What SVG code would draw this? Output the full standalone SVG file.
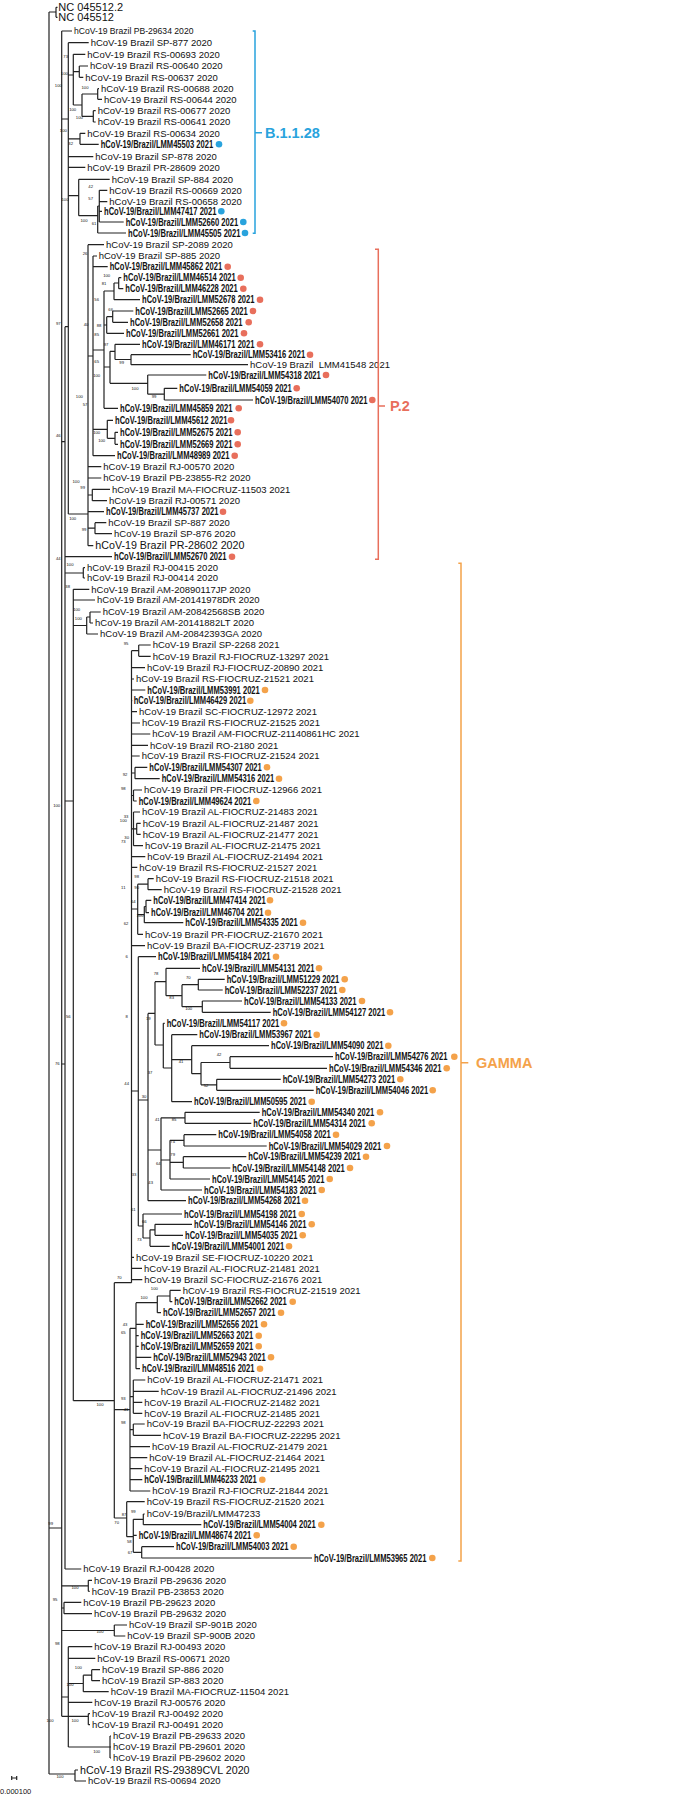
<svg xmlns="http://www.w3.org/2000/svg" width="686" height="1797" viewBox="0 0 686 1797">
<style>
text{font-family:"Liberation Sans Narrow","Liberation Sans",Arial,sans-serif;fill:#111}
.l{font-size:9.5px}
.b{font-size:10px;font-weight:bold;font-family:"Liberation Sans",Arial,sans-serif}
.sm{font-size:8.6px}
.lg{font-size:10.7px}
.nc{font-size:11px}
.bs{font-size:4.2px;text-anchor:middle;font-family:"Liberation Sans",Arial,sans-serif}
.e{fill:none;stroke:#222;stroke-width:1.2}
.cb{fill:#29a3dd}.cr{fill:#e86f5c}.co{fill:#f4a24a}
.kb{fill:none;stroke:#29a3dd;stroke-width:1.5}.kr{fill:none;stroke:#e86f5c;stroke-width:1.5}.ko{fill:none;stroke:#f4a24a;stroke-width:1.5}
.tb{font-size:14.5px;font-weight:bold;fill:#29a3dd}.tr{font-size:14.5px;font-weight:bold;fill:#e86f5c}.to{font-size:14.5px;font-weight:bold;fill:#f4a24a}
</style>
<g id="connectors">
<path class="e" d="M49,12V1774 M49,12H56 M56,7.3V17.3 M56,7.3H57.5 M56,17.3H57.5
M61.7,31V1716.3 M49,1528H61.7 M61.7,31H72
M68.3,42.7V514 M61.7,119H68.3 M68.3,42.7H88.7 M68.3,156.7H93.3 M68.3,167.3H85.3
M73.3,54.3V105 M68.3,75H73.3 M73.3,54.3H85.3 M79.3,66V77.3 M73.3,71.7H79.3 M79.3,66H88 M79.3,77.3H83.3 M82,94V116.3 M73.3,105H82 M97.7,88.7V99.3 M82,94H97.7 M97.7,88.7H99 M97.7,99.3H102 M93.3,110.7V122 M82,116.3H93.3 M93.3,110.7H95.7 M93.3,122H95.7
M80,133.3V144.3 M68.3,138.8H80 M80,133.3H85.3 M80,144.3H98.7
M78.7,179.3V215.7 M68.3,195.7H78.7 M78.7,179.3H109.7 M97.7,206V233 M78.7,215.7H97.7 M97.7,233H126 M99.3,190.3V222 M97.7,206H99.3 M99.3,190.3H107.3 M99.3,201.7H107.3 M99.3,211.3H102 M99.3,222H123.7"/>
<path class="e" d="M88,244.7V545.7 M68.3,514H88 M88,244.7H104
M93,256V455.7 M88,356H93 M93,256H97 M93,266.7H107.7
M104,291V408.3 M93,350H104
M114,283V299.7 M104,291H114 M118.7,277.7V288.7 M114,283H118.7 M118.7,277.7H121.3 M118.7,288.7H123.3 M114,299.7H140
M106.7,316.7V333.3 M104,325H106.7 M112.7,311V322.3 M106.7,316.7H112.7 M112.7,311H133.3 M112.7,322.3H128 M106.7,333.3H124
M110,351.3V383.3 M104,367H110 M115,344.3V359.5 M110,351.3H115 M115,344.3H140 M131,354.7V364.7 M115,359.5H131 M131,354.7H190.7 M131,364.7H248 M147.7,375V394.2 M110,383.3H147.7 M147.7,375H206.3 M164.3,388.3V400 M147.7,394.2H164.3 M164.3,388.3H177.3 M164.3,400H253
M104,408.3H118
M107.3,420.3V438.3 M93,429.3H107.3 M107.3,420.3H113 M115,432.3V444.3 M107.3,438.3H115 M115,432.3H118 M115,444.3H118
M93,455.7H115
M88,466.7H101.3 M88,478H101.3 M92.3,489.3V500.7 M88,495H92.3 M92.3,489.3H110 M92.3,500.7H107 M88,511.7H104 M95,522.7V533.7 M88,528.2H95 M95,522.7H106.3 M95,533.7H112 M88,545.7H93.3"/>
<path class="e" d="M65,326.7V1569 M61.7,441.7H65 M61.7,1064H65 M65,326.7H68.3 M65,556.7H112 M83.3,567.7V578 M65,573H83.3 M83.3,567.7H85 M83.3,578H85
M73.3,589.3V1400.7 M65,801H73.3 M73.3,589.3H89.3 M73.3,600H95 M86.7,617V634 M73.3,625.5H86.7 M90,612V623 M86.7,617H90 M90,612H100.7 M90,623H93 M86.7,634H98
M65,1569H81.3"/>
<path class="e" d="M114.3,1282.7V1518 M73.3,1400.7H114.3
M131.5,650.7V1282.7 M114.3,1282.7H131.5
M138.7,645V656.3 M131.5,650.7H138.7 M138.7,645H150.7 M138.7,656.3H150.7 M131.5,667.7H145 M131.5,679H134 M131.5,690H145.3 M131.5,700.7H132.3 M131.5,711.7H137 M131.5,723H140 M131.5,734H150.3 M131.5,745.3H148 M131.5,756H139.7
M135,767.3V778.7 M131.5,773H135 M135,767.3H147.3 M135,778.7H159.7
M133.5,790V801 M131.5,795.5H133.5 M133.5,790H142 M133.5,801H136.7
M133.5,812V845.7 M131.5,828.8H133.5 M133.5,812H140 M136.7,823.3V834.3 M133.5,828.8H136.7 M136.7,823.3H140.7 M136.7,834.3H140.7 M133.5,845.7H143
M131.5,856.7H145.3 M131.5,867.3H137.3
M137.7,884.2V934.3 M131.5,909H137.7 M148,878.7V889.7 M137.7,884.2H148 M148,878.7H153.7 M148,889.7H161.7 M144.3,906.5V922.7 M137.7,914.6H144.3 M146,900.3V912.7 M144.3,906.5H146 M146,900.3H151.3 M146,912.7H149 M144.3,922.7H183.3 M137.7,934.3H143
M131.5,945.7H145"/>
<path class="e" d="M138.3,956.7V1226 M131.5,1091H138.3 M138.3,956.7H156
M148,1013.4V1200.7 M138.3,1100H148
M155,981.7V1045 M148,1013.4H155
M166,968.3V995.7 M155,981.7H166 M166,968.3H200 M182,984.7V1006.7 M166,995.7H182 M198.3,979.3V990 M182,984.7H198.3 M198.3,979.3H224.7 M198.3,990H222.7 M202.3,1001V1012.3 M182,1006.7H202.3 M202.3,1001H242 M202.3,1012.3H270.7
M163.3,1023.3V1068 M155,1045H163.3 M163.3,1023.3H164.7 M171.7,1034.7V1101.7 M163.3,1068H171.7 M171.7,1034.7H197.3 M171.7,1101.7H192 M191.7,1045.7V1073.7 M171.7,1059.7H191.7 M191.7,1045.7H269 M201,1062.5V1084.8 M191.7,1073.7H201 M230,1056.7V1068.3 M201,1062.5H230 M230,1056.7H333 M230,1068.3H327 M216.7,1079.3V1090.3 M201,1084.8H216.7 M216.7,1079.3H280.7 M216.7,1090.3H313.7
M161,1117.8V1190 M148,1150H161 M185,1112.3V1123.3 M161,1117.8H185 M185,1112.3H259.7 M185,1123.3H251.3 M170,1140.3V1179 M161,1160H170 M184,1134.7V1146 M170,1140.3H184 M184,1134.7H216.3 M184,1146H266.7 M183.3,1156.7V1168 M170,1162.3H183.3 M183.3,1156.7H246.3 M183.3,1168H230.3 M170,1179H210 M161,1190H202 M148,1200.7H186
M143,1214V1238 M138.3,1226H143 M143,1214H182 M150,1229.8V1246.3 M143,1238H150 M155,1224.3V1235.3 M150,1229.8H155 M155,1224.3H192 M155,1235.3H183 M150,1246.3H169.7
M131.5,1257.3H134 M131.5,1268.3H142 M131.5,1279.7H142.3"/>
<path class="e" d="M130,1328.3V1491 M114.3,1409.7H130 M136,1302.7V1368.7 M130,1328.3H136 M157.3,1296V1312.7 M136,1302.7H157.3 M170,1290.3V1301.7 M157.3,1296H170 M170,1290.3H180.7 M170,1301.7H172.3 M157.3,1312.7H161 M136,1324.3H143.7 M136,1335.7H138.7 M136,1346.3H138.7 M136,1357.3H151.3 M136,1368.7H140
M133.3,1380V1413.3 M130,1396.7H133.3 M133.3,1380H145.3 M133.3,1391.3H158.7 M133.3,1402.3H142.3 M133.3,1413.3H142.3 M133.3,1424V1435.3 M130,1429.7H133.3 M133.3,1424H144.7 M133.3,1435.3H161 M130,1446.7H150 M130,1457.7H147.3 M130,1468.7H142.3 M130,1479.7H142.3 M130,1491H150.3
M126.7,1501.7V1536.7 M114.3,1518H126.7 M126.7,1501.7H144.7 M133.3,1519.3V1552.3 M126.7,1536.7H133.3 M143.3,1514V1524.7 M133.3,1519.3H143.3 M143.3,1514H144.7 M143.3,1524.7H201.3 M133.3,1535.3H136.7 M141.7,1546.7V1558 M133.3,1552.3H141.7 M141.7,1546.7H174 M141.7,1558H312"/>
<path class="e" d="M88.3,1580.3V1591.3 M61.7,1585.8H88.3 M88.3,1580.3H92 M88.3,1591.3H89.7 M64,1602.3V1613.7 M61.7,1608H64 M64,1602.3H81.3 M64,1613.7H92 M114.3,1625V1636 M61.7,1630.5H114.3 M114.3,1625H127 M114.3,1636H125.3
M68.3,1646.7V1747 M61.7,1697H68.3 M68.3,1646.7H92.3 M68.3,1658.3H95.3 M83.3,1675.2V1691.7 M68.3,1683.5H83.3 M91.7,1669.7V1680.7 M83.3,1675.2H91.7 M91.7,1669.7H100 M91.7,1680.7H100 M83.3,1691.7H108.7 M68.3,1702.3H92.3 M110,1736V1758 M68.3,1747H110 M110,1736H111 M110,1747H111 M110,1758H111
M88.3,1713.7V1724.7 M61.7,1716.3H88.3 M88.3,1713.7H90 M88.3,1724.7H90
M75,1770V1781 M49,1774H75 M75,1770H78 M75,1781H86"/>
</g>
<g id="bootstrap">
<text class="bs" x="65.7" y="58">73</text><text class="bs" x="64.3" y="74.6">100</text><text class="bs" x="58.3" y="87.3">100</text><text class="bs" x="85" y="88.6">100</text><text class="bs" x="72.7" y="111.3">100</text><text class="bs" x="79.3" y="118.6">100</text><text class="bs" x="63.3" y="132.3">100</text><text class="bs" x="70.7" y="145.3">32</text>
<text class="bs" x="90.7" y="188">42</text><text class="bs" x="90.7" y="199.6">57</text><text class="bs" x="65" y="201.3">100</text><text class="bs" x="84" y="222">100</text><text class="bs" x="94" y="225.3">61</text><text class="bs" x="85" y="254.6">26</text><text class="bs" x="106.7" y="277.3">100</text><text class="bs" x="104" y="285.3">81</text><text class="bs" x="96.7" y="301.3">56</text>
<text class="bs" x="110.7" y="310.6">66</text><text class="bs" x="58.3" y="324.6">97</text><text class="bs" x="86" y="325.6">40</text><text class="bs" x="99" y="327.3">88</text><text class="bs" x="96.7" y="335.6">85</text><text class="bs" x="106" y="346.3">97</text><text class="bs" x="121.7" y="364">99</text><text class="bs" x="96.7" y="363">65</text><text class="bs" x="96.7" y="377.3">100</text><text class="bs" x="135" y="389.6">100</text><text class="bs" x="154" y="398">99</text><text class="bs" x="79.3" y="398">100</text><text class="bs" x="85" y="406.3">57</text><text class="bs" x="58.3" y="437.3">46</text><text class="bs" x="96.7" y="433.6">100</text><text class="bs" x="101.7" y="442">100</text>
<text class="bs" x="76" y="483">100</text><text class="bs" x="82.7" y="489">99</text><text class="bs" x="72.7" y="520.3">100</text><text class="bs" x="84" y="530.6">99</text><text class="bs" x="58.3" y="559.6">44</text><text class="bs" x="70" y="566.3">100</text><text class="bs" x="67.7" y="588">38</text>
<text class="bs" x="76.7" y="611.3">100</text><text class="bs" x="78.3" y="619.6">100</text><text class="bs" x="126" y="644.6">95</text>
<text class="bs" x="125" y="776.3">92</text><text class="bs" x="123.3" y="789.6">98</text><text class="bs" x="56.7" y="807.3">100</text><text class="bs" x="126" y="818">33</text><text class="bs" x="123.3" y="822">100</text><text class="bs" x="126.7" y="839">30</text><text class="bs" x="123.3" y="843">73</text><text class="bs" x="136.7" y="878">98</text><text class="bs" x="136.7" y="889">90</text><text class="bs" x="123.3" y="888.6">11</text>
<text class="bs" x="133.3" y="903">64</text><text class="bs" x="140" y="917.3">100</text><text class="bs" x="126" y="925.3">62</text><text class="bs" x="126.7" y="958">6</text><text class="bs" x="156" y="975.3">78</text><text class="bs" x="188.3" y="978.6">70</text><text class="bs" x="171.7" y="999">83</text><text class="bs" x="188.7" y="1009.6">100</text><text class="bs" x="68.3" y="1018">56</text><text class="bs" x="126.7" y="1018">8</text><text class="bs" x="148.3" y="1019.6">19</text>
<text class="bs" x="219" y="1056.3">42</text><text class="bs" x="181" y="1063">41</text><text class="bs" x="57.3" y="1065.3">76</text><text class="bs" x="150" y="1074">37</text><text class="bs" x="126.7" y="1084.6">44</text><text class="bs" x="206" y="1087.3">52</text><text class="bs" x="144" y="1098">30</text><text class="bs" x="174" y="1121.3">85</text><text class="bs" x="157.3" y="1121.3">41</text><text class="bs" x="172.7" y="1143">74</text><text class="bs" x="172.7" y="1156.3">79</text><text class="bs" x="158.3" y="1164.6">64</text><text class="bs" x="134" y="1176.3">33</text><text class="bs" x="150.7" y="1184">43</text>
<text class="bs" x="133.3" y="1211.3">61</text><text class="bs" x="144.3" y="1223">66</text><text class="bs" x="139.3" y="1240.6">73</text><text class="bs" x="119.3" y="1279">70</text><text class="bs" x="154.3" y="1289.6">100</text><text class="bs" x="144" y="1298.6">100</text><text class="bs" x="125" y="1326.3">43</text><text class="bs" x="123.3" y="1334">65</text>
<text class="bs" x="123.3" y="1399.6">93</text><text class="bs" x="100" y="1406.3">100</text><text class="bs" x="126" y="1410.6">41</text><text class="bs" x="123.3" y="1424">98</text>
<text class="bs" x="133.3" y="1513">99</text><text class="bs" x="124" y="1516.3">87</text><text class="bs" x="116.7" y="1524">70</text><text class="bs" x="50.7" y="1525.3">99</text><text class="bs" x="129.3" y="1543">58</text><text class="bs" x="130" y="1554">67</text><text class="bs" x="75" y="1588.6">100</text><text class="bs" x="55" y="1601.3">95</text><text class="bs" x="100" y="1633">100</text><text class="bs" x="57.3" y="1645.3">98</text>
<text class="bs" x="78.3" y="1668.6">100</text><text class="bs" x="70" y="1686">100</text><text class="bs" x="50" y="1722">100</text><text class="bs" x="75" y="1722">100</text><text class="bs" x="96.7" y="1753.3">100</text><text class="bs" x="60" y="1777.6">100</text>
</g>
<g id="n1"><text class="nc" x="58.3" y="11.3">NC 045512.2</text></g>
<g id="n2"><text class="nc" x="58.3" y="21.3">NC 045512</text></g>
<g id="n3"><text class="sm" x="74" y="34.3">hCoV-19 Brazil PB-29634 2020</text></g>
<g id="n4"><text class="l" x="90.7" y="46">hCoV-19 Brazil SP-877 2020</text></g>
<g id="n5"><text class="l" x="87.3" y="57.6">hCoV-19 Brazil RS-00693 2020</text></g>
<g id="n6"><text class="l" x="90" y="69.3">hCoV-19 Brazil RS-00640 2020</text></g>
<g id="n7"><text class="l" x="85.3" y="80.6">hCoV-19 Brazil RS-00637 2020</text></g>
<g id="n8"><text class="l" x="101" y="92">hCoV-19 Brazil RS-00688 2020</text></g>
<g id="n9"><text class="l" x="104" y="102.6">hCoV-19 Brazil RS-00644 2020</text></g>
<g id="n10"><text class="l" x="97.7" y="114">hCoV-19 Brazil RS-00677 2020</text></g>
<g id="n11"><text class="l" x="97.7" y="125.3">hCoV-19 Brazil RS-00641 2020</text></g>
<g id="n12"><text class="l" x="87.3" y="136.6">hCoV-19 Brazil RS-00634 2020</text></g>
<g id="n13"><text class="b" x="100.7" y="147.8" textLength="112.5" lengthAdjust="spacingAndGlyphs">hCoV-19/Brazil/LMM45503 2021</text><circle class="cb" cx="219" cy="144.3" r="3.3"/></g>
<g id="n14"><text class="l" x="95.3" y="160">hCoV-19 Brazil SP-878 2020</text></g>
<g id="n15"><text class="l" x="87.3" y="170.6">hCoV-19 Brazil PR-28609 2020</text></g>
<g id="n16"><text class="l" x="111.7" y="182.6">hCoV-19 Brazil SP-884 2020</text></g>
<g id="n17"><text class="l" x="109.3" y="193.6">hCoV-19 Brazil RS-00669 2020</text></g>
<g id="n18"><text class="l" x="109.3" y="205">hCoV-19 Brazil RS-00658 2020</text></g>
<g id="n19"><text class="b" x="104" y="214.8" textLength="112.5" lengthAdjust="spacingAndGlyphs">hCoV-19/Brazil/LMM47417 2021</text><circle class="cb" cx="221.3" cy="211.3" r="3.3"/></g>
<g id="n20"><text class="b" x="125.7" y="225.5" textLength="112.5" lengthAdjust="spacingAndGlyphs">hCoV-19/Brazil/LMM52660 2021</text><circle class="cb" cx="243.3" cy="222" r="3.3"/></g>
<g id="n21"><text class="b" x="128" y="236.5" textLength="112.5" lengthAdjust="spacingAndGlyphs">hCoV-19/Brazil/LMM45505 2021</text><circle class="cb" cx="245" cy="233" r="3.3"/></g>
<g id="n22"><text class="l" x="106" y="248">hCoV-19 Brazil SP-2089 2020</text></g>
<g id="n23"><text class="l" x="98.7" y="259.3">hCoV-19 Brazil SP-885 2020</text></g>
<g id="n24"><text class="b" x="109.7" y="270.2" textLength="112.5" lengthAdjust="spacingAndGlyphs">hCoV-19/Brazil/LMM45862 2021</text><circle class="cr" cx="227.7" cy="266.7" r="3.3"/></g>
<g id="n25"><text class="b" x="123.3" y="281.2" textLength="112.5" lengthAdjust="spacingAndGlyphs">hCoV-19/Brazil/LMM46514 2021</text><circle class="cr" cx="240.7" cy="277.7" r="3.3"/></g>
<g id="n26"><text class="b" x="125.3" y="292.2" textLength="112.5" lengthAdjust="spacingAndGlyphs">hCoV-19/Brazil/LMM46228 2021</text><circle class="cr" cx="243.3" cy="288.7" r="3.3"/></g>
<g id="n27"><text class="b" x="142" y="303.2" textLength="112.5" lengthAdjust="spacingAndGlyphs">hCoV-19/Brazil/LMM52678 2021</text><circle class="cr" cx="260" cy="299.7" r="3.3"/></g>
<g id="n28"><text class="b" x="135.3" y="314.5" textLength="112.5" lengthAdjust="spacingAndGlyphs">hCoV-19/Brazil/LMM52665 2021</text><circle class="cr" cx="253" cy="311" r="3.3"/></g>
<g id="n29"><text class="b" x="130" y="325.8" textLength="112.5" lengthAdjust="spacingAndGlyphs">hCoV-19/Brazil/LMM52658 2021</text><circle class="cr" cx="248.7" cy="322.3" r="3.3"/></g>
<g id="n30"><text class="b" x="126" y="336.8" textLength="112.5" lengthAdjust="spacingAndGlyphs">hCoV-19/Brazil/LMM52661 2021</text><circle class="cr" cx="244" cy="333.3" r="3.3"/></g>
<g id="n31"><text class="b" x="142" y="347.8" textLength="112.5" lengthAdjust="spacingAndGlyphs">hCoV-19/Brazil/LMM46171 2021</text><circle class="cr" cx="260" cy="344.3" r="3.3"/></g>
<g id="n32"><text class="b" x="192.7" y="358.2" textLength="112.5" lengthAdjust="spacingAndGlyphs">hCoV-19/Brazil/LMM53416 2021</text><circle class="cr" cx="310" cy="354.7" r="3.3"/></g>
<g id="n33"><text class="l" x="250" y="368">hCoV-19 Brazil&#160; LMM41548 2021</text></g>
<g id="n34"><text class="b" x="208.3" y="378.5" textLength="112.5" lengthAdjust="spacingAndGlyphs">hCoV-19/Brazil/LMM54318 2021</text><circle class="cr" cx="326" cy="375" r="3.3"/></g>
<g id="n35"><text class="b" x="179.3" y="391.8" textLength="112.5" lengthAdjust="spacingAndGlyphs">hCoV-19/Brazil/LMM54059 2021</text><circle class="cr" cx="296.7" cy="388.3" r="3.3"/></g>
<g id="n36"><text class="b" x="255" y="403.5" textLength="112.5" lengthAdjust="spacingAndGlyphs">hCoV-19/Brazil/LMM54070 2021</text><circle class="cr" cx="372.3" cy="400" r="3.3"/></g>
<g id="n37"><text class="b" x="120" y="411.8" textLength="112.5" lengthAdjust="spacingAndGlyphs">hCoV-19/Brazil/LMM45859 2021</text><circle class="cr" cx="238.7" cy="408.3" r="3.3"/></g>
<g id="n38"><text class="b" x="115" y="423.8" textLength="112.5" lengthAdjust="spacingAndGlyphs">hCoV-19/Brazil/LMM45612 2021</text><circle class="cr" cx="231" cy="420.3" r="3.3"/></g>
<g id="n39"><text class="b" x="120" y="435.8" textLength="112.5" lengthAdjust="spacingAndGlyphs">hCoV-19/Brazil/LMM52675 2021</text><circle class="cr" cx="237.7" cy="432.3" r="3.3"/></g>
<g id="n40"><text class="b" x="120" y="447.8" textLength="112.5" lengthAdjust="spacingAndGlyphs">hCoV-19/Brazil/LMM52669 2021</text><circle class="cr" cx="237.7" cy="444.3" r="3.3"/></g>
<g id="n41"><text class="b" x="117" y="459.2" textLength="112.5" lengthAdjust="spacingAndGlyphs">hCoV-19/Brazil/LMM48989 2021</text><circle class="cr" cx="234.7" cy="455.7" r="3.3"/></g>
<g id="n42"><text class="l" x="103.3" y="470">hCoV-19 Brazil RJ-00570 2020</text></g>
<g id="n43"><text class="l" x="103.3" y="481.3">hCoV-19 Brazil PB-23855-R2 2020</text></g>
<g id="n44"><text class="l" x="112" y="492.6">hCoV-19 Brazil MA-FIOCRUZ-11503 2021</text></g>
<g id="n45"><text class="l" x="109" y="504">hCoV-19 Brazil RJ-00571 2020</text></g>
<g id="n46"><text class="b" x="106" y="515.2" textLength="112.5" lengthAdjust="spacingAndGlyphs">hCoV-19/Brazil/LMM45737 2021</text><circle class="cr" cx="223" cy="511.7" r="3.3"/></g>
<g id="n47"><text class="l" x="108.3" y="526">hCoV-19 Brazil SP-887 2020</text></g>
<g id="n48"><text class="l" x="114" y="537">hCoV-19 Brazil SP-876 2020</text></g>
<g id="n49"><text class="lg" x="95.3" y="549.4">hCoV-19 Brazil PR-28602 2020</text></g>
<g id="n50"><text class="b" x="114" y="560.2" textLength="112.5" lengthAdjust="spacingAndGlyphs">hCoV-19/Brazil/LMM52670 2021</text><circle class="cr" cx="232" cy="556.7" r="3.3"/></g>
<g id="n51"><text class="l" x="87" y="571">hCoV-19 Brazil RJ-00415 2020</text></g>
<g id="n52"><text class="l" x="87" y="581.3">hCoV-19 Brazil RJ-00414 2020</text></g>
<g id="n53"><text class="l" x="91.3" y="592.6">hCoV-19 Brazil AM-20890117JP 2020</text></g>
<g id="n54"><text class="l" x="97" y="603.3">hCoV-19 Brazil AM-20141978DR 2020</text></g>
<g id="n55"><text class="l" x="102.7" y="615.3">hCoV-19 Brazil AM-20842568SB 2020</text></g>
<g id="n56"><text class="l" x="95" y="626.3">hCoV-19 Brazil AM-20141882LT 2020</text></g>
<g id="n57"><text class="l" x="100" y="637.3">hCoV-19 Brazil AM-20842393GA 2020</text></g>
<g id="n58"><text class="l" x="152.7" y="648.3">hCoV-19 Brazil SP-2268 2021</text></g>
<g id="n59"><text class="l" x="152.7" y="659.6">hCoV-19 Brazil RJ-FIOCRUZ-13297 2021</text></g>
<g id="n60"><text class="l" x="147" y="671">hCoV-19 Brazil RJ-FIOCRUZ-20890 2021</text></g>
<g id="n61"><text class="l" x="136" y="682.3">hCoV-19 Brazil RS-FIOCRUZ-21521 2021</text></g>
<g id="n62"><text class="b" x="147.3" y="693.5" textLength="112.5" lengthAdjust="spacingAndGlyphs">hCoV-19/Brazil/LMM53991 2021</text><circle class="co" cx="265" cy="690" r="3.3"/></g>
<g id="n63"><text class="b" x="133.7" y="704.2" textLength="112.5" lengthAdjust="spacingAndGlyphs">hCoV-19/Brazil/LMM46429 2021</text><circle class="co" cx="250.3" cy="700.7" r="3.3"/></g>
<g id="n64"><text class="l" x="139" y="715">hCoV-19 Brazil SC-FIOCRUZ-12972 2021</text></g>
<g id="n65"><text class="l" x="142" y="726.3">hCoV-19 Brazil RS-FIOCRUZ-21525 2021</text></g>
<g id="n66"><text class="l" x="152.3" y="737.3">hCoV-19 Brazil AM-FIOCRUZ-21140861HC 2021</text></g>
<g id="n67"><text class="l" x="150" y="748.6">hCoV-19 Brazil RO-2180 2021</text></g>
<g id="n68"><text class="l" x="141.7" y="759.3">hCoV-19 Brazil RS-FIOCRUZ-21524 2021</text></g>
<g id="n69"><text class="b" x="149.3" y="770.8" textLength="112.5" lengthAdjust="spacingAndGlyphs">hCoV-19/Brazil/LMM54307 2021</text><circle class="co" cx="267" cy="767.3" r="3.3"/></g>
<g id="n70"><text class="b" x="161.7" y="782.2" textLength="112.5" lengthAdjust="spacingAndGlyphs">hCoV-19/Brazil/LMM54316 2021</text><circle class="co" cx="279" cy="778.7" r="3.3"/></g>
<g id="n71"><text class="l" x="144" y="793.3">hCoV-19 Brazil PR-FIOCRUZ-12966 2021</text></g>
<g id="n72"><text class="b" x="138.7" y="804.5" textLength="112.5" lengthAdjust="spacingAndGlyphs">hCoV-19/Brazil/LMM49624 2021</text><circle class="co" cx="256.3" cy="801" r="3.3"/></g>
<g id="n73"><text class="l" x="142" y="815.3">hCoV-19 Brazil AL-FIOCRUZ-21483 2021</text></g>
<g id="n74"><text class="l" x="142.7" y="826.6">hCoV-19 Brazil AL-FIOCRUZ-21487 2021</text></g>
<g id="n75"><text class="l" x="142.7" y="837.6">hCoV-19 Brazil AL-FIOCRUZ-21477 2021</text></g>
<g id="n76"><text class="l" x="145" y="849">hCoV-19 Brazil AL-FIOCRUZ-21475 2021</text></g>
<g id="n77"><text class="l" x="147.3" y="860">hCoV-19 Brazil AL-FIOCRUZ-21494 2021</text></g>
<g id="n78"><text class="l" x="139.3" y="870.6">hCoV-19 Brazil RS-FIOCRUZ-21527 2021</text></g>
<g id="n79"><text class="l" x="155.7" y="882">hCoV-19 Brazil RS-FIOCRUZ-21518 2021</text></g>
<g id="n80"><text class="l" x="163.7" y="893">hCoV-19 Brazil RS-FIOCRUZ-21528 2021</text></g>
<g id="n81"><text class="b" x="153.3" y="903.8" textLength="112.5" lengthAdjust="spacingAndGlyphs">hCoV-19/Brazil/LMM47414 2021</text><circle class="co" cx="270" cy="900.3" r="3.3"/></g>
<g id="n82"><text class="b" x="151" y="916.2" textLength="112.5" lengthAdjust="spacingAndGlyphs">hCoV-19/Brazil/LMM46704 2021</text><circle class="co" cx="268" cy="912.7" r="3.3"/></g>
<g id="n83"><text class="b" x="185.3" y="926.2" textLength="112.5" lengthAdjust="spacingAndGlyphs">hCoV-19/Brazil/LMM54335 2021</text><circle class="co" cx="303" cy="922.7" r="3.3"/></g>
<g id="n84"><text class="l" x="145" y="937.6">hCoV-19 Brazil PR-FIOCRUZ-21670 2021</text></g>
<g id="n85"><text class="l" x="147" y="949">hCoV-19 Brazil BA-FIOCRUZ-23719 2021</text></g>
<g id="n86"><text class="b" x="158" y="960.2" textLength="112.5" lengthAdjust="spacingAndGlyphs">hCoV-19/Brazil/LMM54184 2021</text><circle class="co" cx="276" cy="956.7" r="3.3"/></g>
<g id="n87"><text class="b" x="202" y="971.8" textLength="112.5" lengthAdjust="spacingAndGlyphs">hCoV-19/Brazil/LMM54131 2021</text><circle class="co" cx="319" cy="968.3" r="3.3"/></g>
<g id="n88"><text class="b" x="226.7" y="982.8" textLength="112.5" lengthAdjust="spacingAndGlyphs">hCoV-19/Brazil/LMM51229 2021</text><circle class="co" cx="344.7" cy="979.3" r="3.3"/></g>
<g id="n89"><text class="b" x="224.7" y="993.5" textLength="112.5" lengthAdjust="spacingAndGlyphs">hCoV-19/Brazil/LMM52237 2021</text><circle class="co" cx="342.3" cy="990" r="3.3"/></g>
<g id="n90"><text class="b" x="244" y="1004.5" textLength="112.5" lengthAdjust="spacingAndGlyphs">hCoV-19/Brazil/LMM54133 2021</text><circle class="co" cx="362" cy="1001" r="3.3"/></g>
<g id="n91"><text class="b" x="272.7" y="1015.8" textLength="112.5" lengthAdjust="spacingAndGlyphs">hCoV-19/Brazil/LMM54127 2021</text><circle class="co" cx="390" cy="1012.3" r="3.3"/></g>
<g id="n92"><text class="b" x="166.7" y="1026.8" textLength="112.5" lengthAdjust="spacingAndGlyphs">hCoV-19/Brazil/LMM54117 2021</text><circle class="co" cx="284" cy="1023.3" r="3.3"/></g>
<g id="n93"><text class="b" x="199.3" y="1038.2" textLength="112.5" lengthAdjust="spacingAndGlyphs">hCoV-19/Brazil/LMM53967 2021</text><circle class="co" cx="316.7" cy="1034.7" r="3.3"/></g>
<g id="n94"><text class="b" x="271" y="1049.2" textLength="112.5" lengthAdjust="spacingAndGlyphs">hCoV-19/Brazil/LMM54090 2021</text><circle class="co" cx="388.3" cy="1045.7" r="3.3"/></g>
<g id="n95"><text class="b" x="335" y="1060.2" textLength="112.5" lengthAdjust="spacingAndGlyphs">hCoV-19/Brazil/LMM54276 2021</text><circle class="co" cx="454.3" cy="1056.7" r="3.3"/></g>
<g id="n96"><text class="b" x="329" y="1071.8" textLength="112.5" lengthAdjust="spacingAndGlyphs">hCoV-19/Brazil/LMM54346 2021</text><circle class="co" cx="446.7" cy="1068.3" r="3.3"/></g>
<g id="n97"><text class="b" x="282.7" y="1082.8" textLength="112.5" lengthAdjust="spacingAndGlyphs">hCoV-19/Brazil/LMM54273 2021</text><circle class="co" cx="400.3" cy="1079.3" r="3.3"/></g>
<g id="n98"><text class="b" x="315.7" y="1093.8" textLength="112.5" lengthAdjust="spacingAndGlyphs">hCoV-19/Brazil/LMM54046 2021</text><circle class="co" cx="432.7" cy="1090.3" r="3.3"/></g>
<g id="n99"><text class="b" x="194" y="1105.2" textLength="112.5" lengthAdjust="spacingAndGlyphs">hCoV-19/Brazil/LMM50595 2021</text><circle class="co" cx="311.7" cy="1101.7" r="3.3"/></g>
<g id="n100"><text class="b" x="261.7" y="1115.8" textLength="112.5" lengthAdjust="spacingAndGlyphs">hCoV-19/Brazil/LMM54340 2021</text><circle class="co" cx="380" cy="1112.3" r="3.3"/></g>
<g id="n101"><text class="b" x="253.3" y="1126.8" textLength="112.5" lengthAdjust="spacingAndGlyphs">hCoV-19/Brazil/LMM54314 2021</text><circle class="co" cx="371.7" cy="1123.3" r="3.3"/></g>
<g id="n102"><text class="b" x="218.3" y="1138.2" textLength="112.5" lengthAdjust="spacingAndGlyphs">hCoV-19/Brazil/LMM54058 2021</text><circle class="co" cx="336" cy="1134.7" r="3.3"/></g>
<g id="n103"><text class="b" x="268.7" y="1149.5" textLength="112.5" lengthAdjust="spacingAndGlyphs">hCoV-19/Brazil/LMM54029 2021</text><circle class="co" cx="387" cy="1146" r="3.3"/></g>
<g id="n104"><text class="b" x="248.3" y="1160.2" textLength="112.5" lengthAdjust="spacingAndGlyphs">hCoV-19/Brazil/LMM54239 2021</text><circle class="co" cx="366" cy="1156.7" r="3.3"/></g>
<g id="n105"><text class="b" x="232.3" y="1171.5" textLength="112.5" lengthAdjust="spacingAndGlyphs">hCoV-19/Brazil/LMM54148 2021</text><circle class="co" cx="350" cy="1168" r="3.3"/></g>
<g id="n106"><text class="b" x="212" y="1182.5" textLength="112.5" lengthAdjust="spacingAndGlyphs">hCoV-19/Brazil/LMM54145 2021</text><circle class="co" cx="329.7" cy="1179" r="3.3"/></g>
<g id="n107"><text class="b" x="204" y="1193.5" textLength="112.5" lengthAdjust="spacingAndGlyphs">hCoV-19/Brazil/LMM54183 2021</text><circle class="co" cx="321.7" cy="1190" r="3.3"/></g>
<g id="n108"><text class="b" x="188" y="1204.2" textLength="112.5" lengthAdjust="spacingAndGlyphs">hCoV-19/Brazil/LMM54268 2021</text><circle class="co" cx="305" cy="1200.7" r="3.3"/></g>
<g id="n109"><text class="b" x="184" y="1217.5" textLength="112.5" lengthAdjust="spacingAndGlyphs">hCoV-19/Brazil/LMM54198 2021</text><circle class="co" cx="301.7" cy="1214" r="3.3"/></g>
<g id="n110"><text class="b" x="194" y="1227.8" textLength="112.5" lengthAdjust="spacingAndGlyphs">hCoV-19/Brazil/LMM54146 2021</text><circle class="co" cx="311.7" cy="1224.3" r="3.3"/></g>
<g id="n111"><text class="b" x="185" y="1238.8" textLength="112.5" lengthAdjust="spacingAndGlyphs">hCoV-19/Brazil/LMM54035 2021</text><circle class="co" cx="302.7" cy="1235.3" r="3.3"/></g>
<g id="n112"><text class="b" x="171.7" y="1249.8" textLength="112.5" lengthAdjust="spacingAndGlyphs">hCoV-19/Brazil/LMM54001 2021</text><circle class="co" cx="289" cy="1246.3" r="3.3"/></g>
<g id="n113"><text class="l" x="136" y="1260.6">hCoV-19 Brazil SE-FIOCRUZ-10220 2021</text></g>
<g id="n114"><text class="l" x="144" y="1271.6">hCoV-19 Brazil AL-FIOCRUZ-21481 2021</text></g>
<g id="n115"><text class="l" x="144.3" y="1283">hCoV-19 Brazil SC-FIOCRUZ-21676 2021</text></g>
<g id="n116"><text class="l" x="182.7" y="1293.6">hCoV-19 Brazil RS-FIOCRUZ-21519 2021</text></g>
<g id="n117"><text class="b" x="174.3" y="1305.2" textLength="112.5" lengthAdjust="spacingAndGlyphs">hCoV-19/Brazil/LMM52662 2021</text><circle class="co" cx="292.7" cy="1301.7" r="3.3"/></g>
<g id="n118"><text class="b" x="163" y="1316.2" textLength="112.5" lengthAdjust="spacingAndGlyphs">hCoV-19/Brazil/LMM52657 2021</text><circle class="co" cx="281" cy="1312.7" r="3.3"/></g>
<g id="n119"><text class="b" x="145.7" y="1327.8" textLength="112.5" lengthAdjust="spacingAndGlyphs">hCoV-19/Brazil/LMM52656 2021</text><circle class="co" cx="264" cy="1324.3" r="3.3"/></g>
<g id="n120"><text class="b" x="140.7" y="1339.2" textLength="112.5" lengthAdjust="spacingAndGlyphs">hCoV-19/Brazil/LMM52663 2021</text><circle class="co" cx="258.7" cy="1335.7" r="3.3"/></g>
<g id="n121"><text class="b" x="140.7" y="1349.8" textLength="112.5" lengthAdjust="spacingAndGlyphs">hCoV-19/Brazil/LMM52659 2021</text><circle class="co" cx="258.7" cy="1346.3" r="3.3"/></g>
<g id="n122"><text class="b" x="153.3" y="1360.8" textLength="112.5" lengthAdjust="spacingAndGlyphs">hCoV-19/Brazil/LMM52943 2021</text><circle class="co" cx="271" cy="1357.3" r="3.3"/></g>
<g id="n123"><text class="b" x="142" y="1372.2" textLength="112.5" lengthAdjust="spacingAndGlyphs">hCoV-19/Brazil/LMM48516 2021</text><circle class="co" cx="260" cy="1368.7" r="3.3"/></g>
<g id="n124"><text class="l" x="147.3" y="1383.3">hCoV-19 Brazil AL-FIOCRUZ-21471 2021</text></g>
<g id="n125"><text class="l" x="160.7" y="1394.6">hCoV-19 Brazil AL-FIOCRUZ-21496 2021</text></g>
<g id="n126"><text class="l" x="144.3" y="1405.6">hCoV-19 Brazil AL-FIOCRUZ-21482 2021</text></g>
<g id="n127"><text class="l" x="144.3" y="1416.6">hCoV-19 Brazil AL-FIOCRUZ-21485 2021</text></g>
<g id="n128"><text class="l" x="146.7" y="1427.3">hCoV-19 Brazil BA-FIOCRUZ-22293 2021</text></g>
<g id="n129"><text class="l" x="163" y="1438.6">hCoV-19 Brazil BA-FIOCRUZ-22295 2021</text></g>
<g id="n130"><text class="l" x="152" y="1450">hCoV-19 Brazil AL-FIOCRUZ-21479 2021</text></g>
<g id="n131"><text class="l" x="149.3" y="1461">hCoV-19 Brazil AL-FIOCRUZ-21464 2021</text></g>
<g id="n132"><text class="l" x="144.3" y="1472">hCoV-19 Brazil AL-FIOCRUZ-21495 2021</text></g>
<g id="n133"><text class="b" x="144.3" y="1483.2" textLength="112.5" lengthAdjust="spacingAndGlyphs">hCoV-19/Brazil/LMM46233 2021</text><circle class="co" cx="262.3" cy="1479.7" r="3.3"/></g>
<g id="n134"><text class="l" x="152.3" y="1494.3">hCoV-19 Brazil RJ-FIOCRUZ-21844 2021</text></g>
<g id="n135"><text class="l" x="146.7" y="1505">hCoV-19 Brazil RS-FIOCRUZ-21520 2021</text></g>
<g id="n136"><text class="l" x="146.7" y="1517.3">hCoV-19/Brazil/LMM47233</text></g>
<g id="n137"><text class="b" x="203.3" y="1528.2" textLength="112.5" lengthAdjust="spacingAndGlyphs">hCoV-19/Brazil/LMM54004 2021</text><circle class="co" cx="321.3" cy="1524.7" r="3.3"/></g>
<g id="n138"><text class="b" x="138.7" y="1538.8" textLength="112.5" lengthAdjust="spacingAndGlyphs">hCoV-19/Brazil/LMM48674 2021</text><circle class="co" cx="256.7" cy="1535.3" r="3.3"/></g>
<g id="n139"><text class="b" x="176" y="1550.2" textLength="112.5" lengthAdjust="spacingAndGlyphs">hCoV-19/Brazil/LMM54003 2021</text><circle class="co" cx="293.7" cy="1546.7" r="3.3"/></g>
<g id="n140"><text class="b" x="314" y="1561.5" textLength="112.5" lengthAdjust="spacingAndGlyphs">hCoV-19/Brazil/LMM53965 2021</text><circle class="co" cx="432.3" cy="1558" r="3.3"/></g>
<g id="n141"><text class="l" x="83.3" y="1572.3">hCoV-19 Brazil RJ-00428 2020</text></g>
<g id="n142"><text class="l" x="94" y="1583.6">hCoV-19 Brazil PB-29636 2020</text></g>
<g id="n143"><text class="l" x="91.7" y="1594.6">hCoV-19 Brazil PB-23853 2020</text></g>
<g id="n144"><text class="l" x="83.3" y="1605.6">hCoV-19 Brazil PB-29623 2020</text></g>
<g id="n145"><text class="l" x="94" y="1617">hCoV-19 Brazil PB-29632 2020</text></g>
<g id="n146"><text class="l" x="129" y="1628.3">hCoV-19 Brazil SP-901B 2020</text></g>
<g id="n147"><text class="l" x="127.3" y="1639.3">hCoV-19 Brazil SP-900B 2020</text></g>
<g id="n148"><text class="l" x="94.3" y="1650">hCoV-19 Brazil RJ-00493 2020</text></g>
<g id="n149"><text class="l" x="97.3" y="1661.6">hCoV-19 Brazil RS-00671 2020</text></g>
<g id="n150"><text class="l" x="102" y="1673">hCoV-19 Brazil SP-886 2020</text></g>
<g id="n151"><text class="l" x="102" y="1684">hCoV-19 Brazil SP-883 2020</text></g>
<g id="n152"><text class="l" x="110.7" y="1695">hCoV-19 Brazil MA-FIOCRUZ-11504 2021</text></g>
<g id="n153"><text class="l" x="94.3" y="1705.6">hCoV-19 Brazil RJ-00576 2020</text></g>
<g id="n154"><text class="l" x="92" y="1717">hCoV-19 Brazil RJ-00492 2020</text></g>
<g id="n155"><text class="l" x="92" y="1728">hCoV-19 Brazil RJ-00491 2020</text></g>
<g id="n156"><text class="l" x="113" y="1739.3">hCoV-19 Brazil PB-29633 2020</text></g>
<g id="n157"><text class="l" x="113" y="1750.3">hCoV-19 Brazil PB-29601 2020</text></g>
<g id="n158"><text class="l" x="113" y="1761.3">hCoV-19 Brazil PB-29602 2020</text></g>
<g id="n159"><text class="lg" x="80" y="1773.7">hCoV-19 Brazil RS-29389CVL 2020</text></g>
<g id="n160"><text class="l" x="88" y="1784.3">hCoV-19 Brazil RS-00694 2020</text></g>
<g id="clade-b1128"><path class="kb" d="M252.7,31H255V233.3H252.7 M255,132.7H262"/><text class="tb" x="265" y="138">B.1.1.28</text></g>
<g id="clade-p2"><path class="kr" d="M375,249.3H378.3V559.3H375 M378.3,406H385"/><text class="tr" x="390" y="411.3">P.2</text></g>
<g id="clade-gamma"><path class="ko" d="M458.3,563.3H461V1561H458.3 M461,1062.7H468.3"/><text class="to" x="476" y="1068">GAMMA</text></g>
<g id="scale"><path class="e" d="M11.7,1778H16.7 M11.7,1776V1780 M16.7,1776V1780"/><text x="0" y="1793.5" style="font-size:7.5px">0.000100</text></g>
</svg>
